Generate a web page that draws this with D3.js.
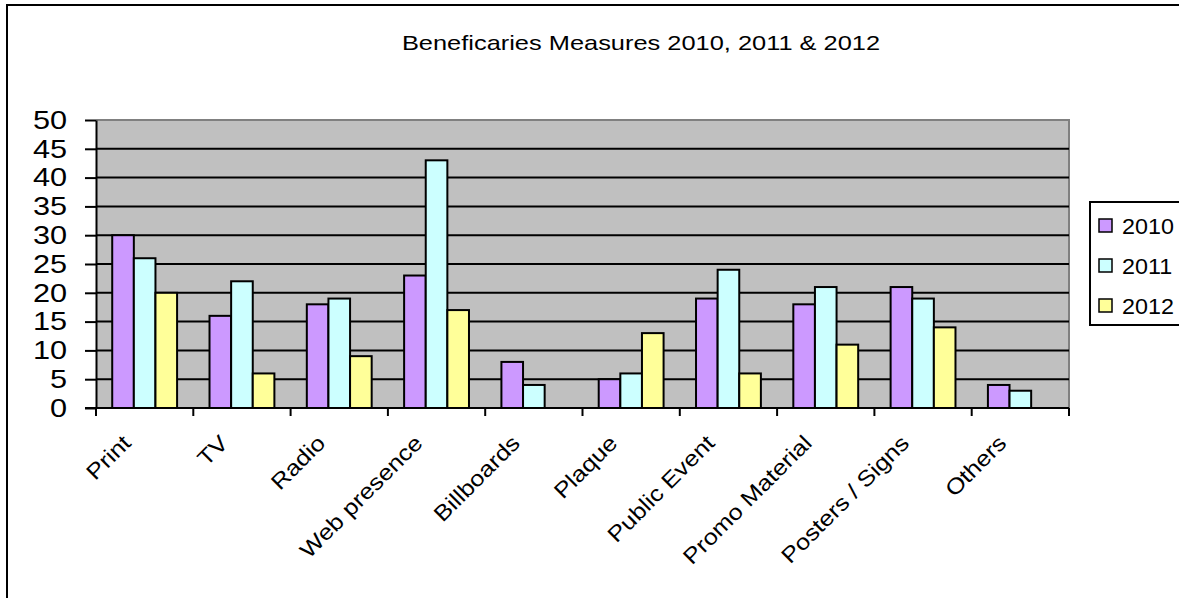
<!DOCTYPE html>
<html>
<head>
<meta charset="utf-8">
<script src="https://cdn.jsdelivr.net/npm/d3@7"></script>
<style>
  html, body { margin: 0; padding: 0; background: #fff; overflow: hidden; }
  svg { display: block; font-family: "Liberation Sans", Arial, sans-serif; }
</style>
</head>
<body>
<svg id="chart" width="1179" height="598"></svg>
<script>
// Media measures reported by beneficiaries, per year
const categories = ["Print", "TV", "Radio", "Web presence", "Billboards", "Plaque",
                    "Public Event", "Promo Material", "Posters / Signs", "Others"];
const years = ["2010", "2011", "2012"];
const values2010 = [30, 16, 18, 23, 8, 5, 19, 18, 21, 4];
const values2011 = [26, 22, 19, 43, 4, 6, 24, 21, 19, 3];
const values2012 = [20, 6, 9, 17, 0, 13, 6, 11, 14, 0];
const yTicks = [0, 5, 10, 15, 20, 25, 30, 35, 40, 45, 50];
const title = "Beneficaries Measures 2010, 2011 & 2012";

const seriesValues = { "2010": values2010, "2011": values2011, "2012": values2012 };
const colors = { "2010": "#CC99FF", "2011": "#CCFFFF", "2012": "#FFFF99" };

const svg = d3.select("#chart");

// chart area frame (runs past the right and bottom edges)
svg.append("rect")
  .attr("x", 7).attr("y", 5)
  .attr("width", 1300).attr("height", 700)
  .attr("fill", "#fff").attr("stroke", "#000").attr("stroke-width", 2);

const plot = { left: 96, right: 1069, top: 120, bottom: 408 };

const x = d3.scaleBand().domain(categories).range([plot.left, plot.right]).padding(0);
const xInner = d3.scaleBand().domain(years).range([0, x.bandwidth()])
  .paddingInner(0).paddingOuter(0.75);
const y = d3.scaleLinear().domain([0, 50]).range([plot.bottom, plot.top]);

// plot background
svg.append("rect")
  .attr("x", plot.left).attr("y", plot.top)
  .attr("width", plot.right - plot.left).attr("height", plot.bottom - plot.top)
  .attr("fill", "#C0C0C0");
svg.append("path")
  .attr("d", `M${plot.left},${plot.top}H${plot.right}V${plot.bottom}`)
  .attr("fill", "none").attr("stroke", "#808080").attr("stroke-width", 2);

// horizontal gridlines
svg.append("g").selectAll("line")
  .data(yTicks.filter(t => t > 0 && t < 50))
  .join("line")
  .attr("x1", plot.left).attr("x2", plot.right)
  .attr("y1", d => y(d)).attr("y2", d => y(d))
  .attr("stroke", "#000").attr("stroke-width", 2);

// bars
const rows = categories.map((c, i) => ({ c, vals: years.map(yr => ({ yr, v: seriesValues[yr][i] })) }));
const groups = svg.append("g").selectAll("g")
  .data(rows).join("g")
  .attr("transform", d => `translate(${x(d.c)},0)`);
groups.selectAll("rect")
  .data(d => d.vals.filter(e => e.v > 0))
  .join("rect")
  .attr("x", d => xInner(d.yr))
  .attr("width", xInner.bandwidth())
  .attr("y", d => y(d.v))
  .attr("height", d => y(0) - y(d.v))
  .attr("fill", d => colors[d.yr])
  .attr("stroke", "#000").attr("stroke-width", 2);

// y axis
const yAxis = svg.append("g")
  .attr("transform", `translate(${plot.left},0)`)
  .call(d3.axisLeft(y).tickValues(yTicks).tickSize(11).tickPadding(0).tickSizeOuter(0));
yAxis.select(".domain").attr("stroke", "#000").attr("stroke-width", 2);
yAxis.selectAll(".tick line").attr("stroke", "#000").attr("stroke-width", 2);
yAxis.selectAll(".tick text")
  .attr("x", null)
  .attr("transform", "translate(-29,0) scale(1.18,1)")
  .attr("font-family", "Liberation Sans, Arial, sans-serif")
  .attr("font-size", 26).attr("fill", "#000");

// x axis: ticks at category boundaries
svg.append("line")
  .attr("x1", plot.left - 11).attr("x2", plot.right)
  .attr("y1", plot.bottom).attr("y2", plot.bottom)
  .attr("stroke", "#000").attr("stroke-width", 2);
svg.append("g").selectAll("line")
  .data(categories.map(c => x(c)).concat([plot.right]))
  .join("line")
  .attr("x1", d => d).attr("x2", d => d)
  .attr("y1", plot.bottom).attr("y2", plot.bottom + 8)
  .attr("stroke", "#000").attr("stroke-width", 2);

// rotated category labels
svg.append("g").selectAll("text")
  .data(categories).join("text")
  .attr("transform", d => `translate(${x(d) + x.bandwidth() / 2 - 18},${plot.bottom + 31}) rotate(-45) scale(1.15,1)`)
  .attr("text-anchor", "end")
  .attr("dy", "0.35em")
  .attr("font-size", 22)
  .attr("fill", "#000")
  .text(d => d);

// title
svg.append("text")
  .attr("transform", "translate(641,50) scale(1.21,1)")
  .attr("text-anchor", "middle")
  .attr("font-size", 21)
  .attr("fill", "#000")
  .text(title);

// legend
const legend = svg.append("g");
legend.append("rect")
  .attr("x", 1090).attr("y", 202).attr("width", 120).attr("height", 123)
  .attr("fill", "#fff").attr("stroke", "#000").attr("stroke-width", 2);
const items = legend.selectAll("g.item").data(years).join("g")
  .attr("class", "item")
  .attr("transform", (d, i) => `translate(1099,${226 + i * 40})`);
items.append("rect")
  .attr("x", 0).attr("y", -7).attr("width", 13).attr("height", 13)
  .attr("fill", d => colors[d]).attr("stroke", "#000").attr("stroke-width", 1.5);
items.append("text")
  .attr("transform", "translate(23,0) scale(1.06,1)")
  .attr("dy", "0.36em")
  .attr("font-size", 22).attr("fill", "#000")
  .text(d => d);
</script>
</body>
</html>
